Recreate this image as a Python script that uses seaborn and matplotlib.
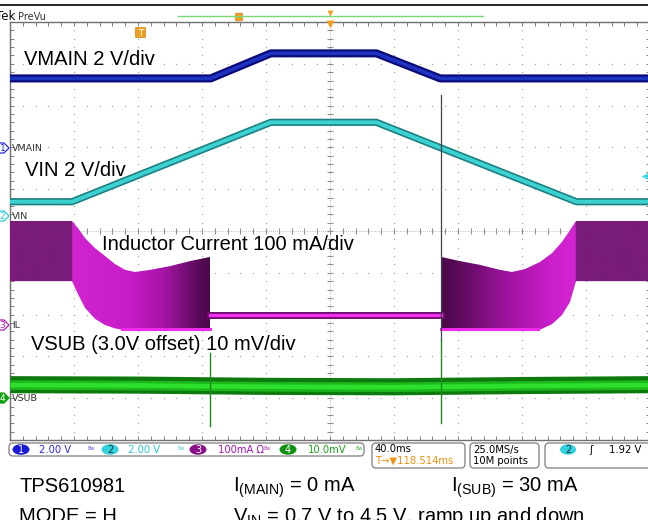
import numpy as np
import pandas as pd
import matplotlib
matplotlib.use("Agg")
import matplotlib.pyplot as plt
import seaborn as sns
from matplotlib.patches import FancyBboxPatch, Ellipse, Polygon
from matplotlib.colors import to_rgb

# ---------------- data (read from the scope capture) ----------------
# horizontal: 40 ms/div, 10 divisions -> 0..400 ms, trigger at 200 ms
vmain_t = [0, 125.4, 163.0, 229.0, 268.9, 400]          # ms
vmain_v = [3.3, 3.3, 4.5, 4.5, 3.3, 3.3]                # V
vin_t = [0, 38.75, 163.0, 229.0, 354.0, 400]            # ms
vin_v = [0.7, 0.7, 4.5, 4.5, 0.7, 0.7]                  # V

il_left_t = [0, 38.75, 42.5, 46.9, 53.1, 59.4, 65.6, 71.9, 78.1, 87.5, 100, 112.5, 125]
il_left_hi = [254, 254, 237, 213, 189, 170, 151, 137, 132, 137, 146, 158, 168]     # mA
il_left_lo = [110, 110, 79, 46, 20, 5, -3, -7, -7, -7, -7, -7, -7]                 # mA
il_right_t = [269.4, 281.25, 293.75, 306.25, 313.75, 321.9, 331.25, 338.75, 345, 350, 353.75, 400]
il_right_hi = [168, 158, 149, 137, 132, 139, 156, 177, 204, 232, 254, 254]
il_right_lo = [-7, -7, -7, -7, -7, -7, -6, 7, 29, 60, 110, 110]
il_mid_t = [125, 269.4]
il_mid = [30, 30]
il_floor_left_t = [70, 125]
il_floor_right_t = [269.4, 330]
il_floor = [-4, -4]
il_spike_t = [269.4, 269.4]
il_spike = [555, -30]

vsub_t = [0, 80, 160, 240, 320, 400]
vsub_mv = [3.2, 3.1, 2.8, 2.7, 3.0, 3.2]                 # mV (3.0 V offset)
vsub_spike1_t = [125, 125]
vsub_spike1 = [10.8, -6.7]
vsub_spike2_t = [269.4, 269.4]
vsub_spike2 = [14.0, -6.0]

# channel settings: scale per div and ground offset (div)
VMAIN_SCALE, VMAIN_OFF = 2.0, 2.0
VIN_SCALE, VIN_OFF = 2.0, 0.35
IL_SCALE, IL_OFF = 100.0, -2.3
VSUB_SCALE, VSUB_OFF = 10.0, -4.0

def to_div(vals, scale, off):
    return np.asarray(vals, float) / scale + off

# ---------------- figure ----------------
plt.rcParams['font.family'] = ['Liberation Sans', 'DejaVu Sans']
plt.rcParams['mathtext.default'] = 'regular'

fig = plt.figure(figsize=(6.48, 5.2), dpi=100)
fig.patch.set_facecolor('white')
ax = fig.add_axes([10 / 648, 80 / 520, 640 / 648, 418 / 520])
ax.set_xlim(0, 400)
ax.set_ylim(-5, 5)
ax.set_facecolor('white')

def trace(t, y, color, lw, z):
    d = pd.DataFrame({'t': t, 'y': y})
    sns.lineplot(data=d, x='t', y='y', ax=ax, color=color, lw=lw, zorder=z,
                 estimator=None, sort=False, errorbar=None)

# graticule
gcol = '#a8a8a8'
ypos = np.arange(-5, 5.001, 0.2)
xpos = np.arange(0, 400.01, 8)
for k in range(1, 10):
    if k == 5:
        continue
    ax.plot(np.full_like(ypos, 40 * k), ypos, ls='none', marker='s', ms=0.9, mfc=gcol, mec='none', zorder=1)
for j in range(-4, 5):
    if j == 0:
        continue
    ax.plot(xpos, np.full_like(xpos, j), ls='none', marker='s', ms=0.9, mfc=gcol, mec='none', zorder=1)
ax.axvline(200, color=gcol, lw=0.6, ls=(0, (1, 1.5)), zorder=1)
ax.axhline(0, color=gcol, lw=0.6, ls=(0, (1, 1.5)), zorder=1)
ax.plot(np.full_like(ypos, 200), ypos, ls='none', marker='_', ms=4, mew=0.8, color='#909090', zorder=1)
ax.plot(xpos, np.zeros_like(xpos), ls='none', marker='|', ms=4, mew=0.8, color='#909090', zorder=1)

for s in ['left', 'top', 'bottom', 'right']:
    ax.spines[s].set_color('#707070')
    ax.spines[s].set_linewidth(1.0)
ax.set_xticks(np.arange(0, 401, 40))
ax.set_yticks(np.arange(-5, 5.01, 1))
ax.set_xticks(xpos, minor=True)
ax.set_yticks(ypos, minor=True)
ax.tick_params(which='both', direction='in', length=3, width=0.7, color='#808080',
               top=True, right=True, labelbottom=False, labelleft=False)

# ---- inductor current band with colour gradient ----
stops_t = [0, 38.7, 38.8, 75, 95, 108, 118, 125, 269.4, 280, 295, 320, 340, 353.7, 353.8, 400]
stops_c = ['#7a1c7a', '#7a1c7a', '#d024d0', '#c81cc8', '#a814a8', '#7c107c', '#5a0a5a', '#480848',
           '#480848', '#5a0a5a', '#7c107c', '#b016b0', '#cc20cc', '#d424d4', '#7a1c7a', '#7a1c7a']
tt = np.linspace(0, 400, 1601)
rgb = np.array([to_rgb(c) for c in stops_c])
grad = np.stack([np.interp(tt, stops_t, rgb[:, i]) for i in range(3)], axis=-1)[None, :, :]

for t_, hi_, lo_ in [(il_left_t, il_left_hi, il_left_lo), (il_right_t, il_right_hi, il_right_lo)]:
    poly = ax.fill_between(t_, to_div(hi_, IL_SCALE, IL_OFF), to_div(lo_, IL_SCALE, IL_OFF),
                           color='none', lw=0, zorder=3)
    im = ax.imshow(grad, extent=[0, 400, -5, 5], aspect='auto', interpolation='bilinear', zorder=3)
    im.set_clip_path(poly.get_paths()[0], transform=ax.transData)

trace(il_mid_t, to_div(il_mid, IL_SCALE, IL_OFF), '#6a0c6a', 5.0, 4)
trace(il_mid_t, to_div(il_mid, IL_SCALE, IL_OFF), '#f030f0', 2.4, 4)
for ft in [il_floor_left_t, il_floor_right_t]:
    trace(ft, to_div(il_floor, IL_SCALE, IL_OFF), '#f028f0', 2.2, 4)

# ---- VMAIN / VIN ----
trace(vmain_t, to_div(vmain_v, VMAIN_SCALE, VMAIN_OFF), '#0a0a7a', 5.8, 5)
trace(vmain_t, to_div(vmain_v, VMAIN_SCALE, VMAIN_OFF), '#1e34c0', 2.6, 5)
trace(vin_t, to_div(vin_v, VIN_SCALE, VIN_OFF), '#1c8080', 5.2, 5)
trace(vin_t, to_div(vin_v, VIN_SCALE, VIN_OFF), '#3cd2d2', 2.8, 5)

# spike (dark) at switching on
trace(il_spike_t, to_div(il_spike, IL_SCALE, IL_OFF), '#404450', 0.9, 6)

# ---- VSUB ----
vs_c = to_div(vsub_mv, VSUB_SCALE, VSUB_OFF)
ax.fill_between(vsub_t, vs_c - 0.19, vs_c + 0.22, color='#0e7a0e', lw=0, zorder=5)
ax.fill_between(vsub_t, vs_c - 0.11, vs_c + 0.12, color='#1cb81c', lw=0, zorder=5)
ax.fill_between(vsub_t, vs_c - 0.05, vs_c + 0.06, color='#2ee02e', lw=0, zorder=5)
for st, sv in [(vsub_spike1_t, vsub_spike1), (vsub_spike2_t, vsub_spike2)]:
    trace(st, to_div(sv, VSUB_SCALE, VSUB_OFF), '#1a8a1a', 1.0, 6)

ax.set_xlabel('')
ax.set_ylabel('')
leg = ax.get_legend()
if leg:
    leg.remove()

# ---------------- overlay (pixel coordinates) ----------------
ov = fig.add_axes([0, 0, 1, 1], zorder=10)
ov.set_xlim(0, 648)
ov.set_ylim(520, 0)
ov.axis('off')

big = dict(fontsize=14.5, family='Liberation Sans', color='black', va='baseline')
ov.text(24, 65, 'VMAIN 2 V/div', **big)
ov.text(25, 176, 'VIN 2 V/div', **big)
ov.text(102, 250, 'Inductor Current 100 mA/div', **big)
ov.text(31, 349.5, 'VSUB (3.0V offset) 10 mV/div', **big)
ov.text(19, 491.7, 'TPS610981', **big)
ov.text(19, 522, 'MODE = H', **big)
ov.text(233, 491.7, r'I$_{(MAIN)}$ = 0 mA', **big)
ov.text(451, 491.7, r'I$_{(SUB)}$ = 30 mA', **big)
ov.text(233, 522, r'V$_{IN}$ = 0.7 V to 4.5 V, ramp up and down', **big)

# top bar
ov.plot([0, 648], [5, 5], color='black', lw=1.2)
ov.plot([178, 483], [16, 16], color='#78d878', lw=1.0)
ov.text(-4, 20, 'Tek', fontsize=8.5, family='DejaVu Sans', color='black', va='baseline')
ov.text(18, 20, 'PreVu', fontsize=7, family='DejaVu Sans', color='#333333', va='baseline')
ov.add_patch(FancyBboxPatch((236, 13.5), 6, 7, boxstyle='round,pad=0.3', fc='#f0a020', ec='#d08010', lw=0.5))
ov.plot([330], [12.5], marker='v', ms=4, color='#f0a020', mec='none')
ov.plot([330], [24], marker='v', ms=6, color='#f0a020', mec='none')
ov.add_patch(FancyBboxPatch((136, 28), 9, 9, boxstyle='round,pad=0.5', fc='#f0a020', ec='#d08010', lw=0.5))
ov.text(140.5, 33, 'T', fontsize=6, color='white', ha='center', va='center', family='DejaVu Sans')
ov.plot([645], [175.5], marker='<', ms=6, color='#40d8e0', mec='none')

# channel markers at left
for y, num, col, lab in [(148, '1', '#2a2ae0', 'VMAIN'), (216, '2', '#30c8d8', 'VIN'),
                         (325, '3', '#b020b0', 'IL'), (398, '4', '#10a010', 'VSUB')]:
    ov.add_patch(Polygon([(-4, y - 5), (4, y - 5), (9, y), (4, y + 5), (-4, y + 5)], closed=True,
                         fc='white' if num != '4' else '#10a010', ec=col, lw=0.9, zorder=11))
    ov.text(2.5, y + 0.5, num, fontsize=6.5, color=col if num != '4' else 'white',
            ha='center', va='center', family='DejaVu Sans', zorder=12)
    ov.text(12, y + 0.5, lab, fontsize=6.8, color='#333333', ha='left', va='center',
            family='DejaVu Sans', zorder=12)

# status bar
def rbox(x0, y0, x1, y1):
    ov.add_patch(FancyBboxPatch((x0, y0), x1 - x0, y1 - y0, boxstyle='round,pad=0,rounding_size=4',
                                fc='white', ec='#8a8a8a', lw=1.0))

rbox(9, 443, 364, 456)
rbox(372, 443, 465, 468)
rbox(470, 443, 539, 468)
rbox(545, 443, 660, 468)

sfont = dict(fontsize=7.2, family='DejaVu Sans', va='center')
for cx, num, fc, tc, txt, tx, txtcol, gx in [
        (21, '1', '#1818d8', 'white', '2.00 V', 39, '#2a2ae8', 88),
        (110, '2', '#30d0dc', '#003040', '2.00 V', 128, '#28c4d4', 177),
        (198, '3', '#8a108a', 'white', '100mA \u03a9', 218, '#a014b0', 264),
        (288, '4', '#109010', 'white', '10.0mV', 308, '#18a018', 355)]:
    ov.add_patch(Ellipse((cx, 449.5), 17, 10.5, fc=fc, ec='none'))
    ov.text(cx, 449.8, num, color=tc, ha='center', fontsize=7, family='DejaVu Sans', va='center')
    ov.text(tx, 449.8, txt, color=txtcol, **sfont)
    ov.text(gx, 448.5, 'Bw', color=txtcol, fontsize=3.5, family='DejaVu Sans', va='center', alpha=0.8)

ov.text(375, 449.5, '40.0ms', color='black', **sfont)
ov.text(375, 461, 'T\u2192\u25bc118.514ms', color='#f09010', **sfont)
ov.text(473, 449.5, '25.0MS/s', color='black', **sfont)
ov.text(473, 461, '10M points', color='black', **sfont)
ov.add_patch(Ellipse((568, 449.5), 16, 10.5, fc='#30d0dc', ec='none'))
ov.text(568, 449.8, '2', color='#003040', ha='center', fontsize=7, family='DejaVu Sans', va='center')
ov.text(589, 449.8, '\u0283', color='black', **sfont)
ov.text(609, 449.8, '1.92 V', color='black', **sfont)

fig.savefig('out.png', dpi=100)
